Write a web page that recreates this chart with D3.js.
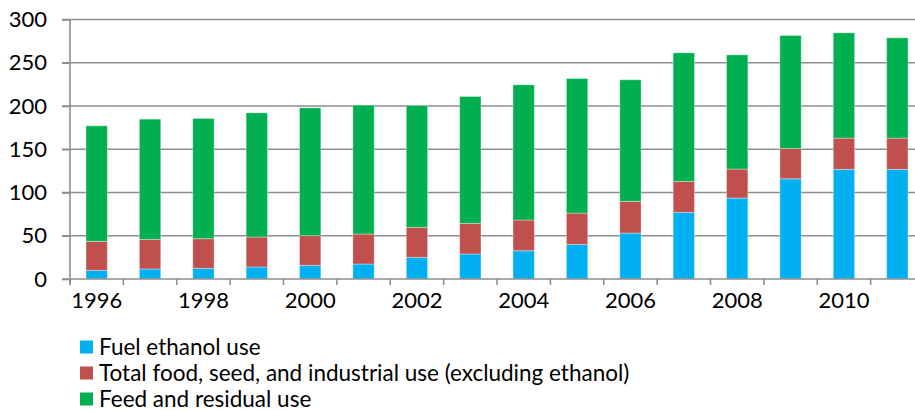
<!DOCTYPE html>
<html>
<head>
<meta charset="utf-8">
<script src="https://cdn.jsdelivr.net/npm/d3@7"></script>
<style>
  html, body { margin: 0; padding: 0; background: #fff; }
  svg { display: block; }
  text { font-family: Lato, "Open Sans", sans-serif; fill: #000; }
</style>
</head>
<body>
<svg id="chart" width="915" height="411"></svg>
<script>
// Corn use by category, million metric tons
const years = ["1996","1997","1998","1999","2000","2001","2002","2003",
               "2004","2005","2006","2007","2008","2009","2010","2011"];
const fuelEthanol = [10.0, 11.6, 12.3, 13.9, 15.8, 17.3, 25.0, 28.9,
                     32.7, 40.0, 53.1, 77.0, 93.6, 115.9, 126.7, 126.7];
const foodSeedIndustrial = [33.5, 34.2, 34.3, 34.6, 34.3, 34.7, 34.7, 35.4,
                            35.5, 36.2, 36.6, 35.8, 33.5, 35.0, 36.2, 36.2];
const feedResidual = [133.6, 139.0, 139.0, 143.6, 147.8, 149.0, 140.9, 146.7,
                      156.3, 155.6, 140.6, 148.7, 132.0, 130.6, 121.7, 115.9];
const yTicks = [0, 50, 100, 150, 200, 250, 300];
const seriesNames = ["Fuel ethanol use",
                     "Total food, seed, and industrial use (excluding ethanol)",
                     "Feed and residual use"];
const seriesColors = ["#00B0F0", "#C0504D", "#00B050"];

const svg = d3.select("#chart");
const plotLeft = 70, plotRight = 924, plotTop = 19.5, plotBottom = 279;
const axisFont = 22, legendFont = 22.5;

const rows = years.map((yr, i) => ({
  year: yr,
  fuel: fuelEthanol[i],
  food: foodSeedIndustrial[i],
  feed: feedResidual[i]
}));
const keys = ["fuel", "food", "feed"];
const stacked = d3.stack().keys(keys)(rows);

const x = d3.scaleBand().domain(years).range([plotLeft, plotRight])
  .paddingInner(0.6).paddingOuter(0.3);
const y = d3.scaleLinear().domain([0, 300]).range([plotBottom, plotTop]);
const step = x.step();

// horizontal gridlines (each extends left of the axis as a tick)
svg.append("g").selectAll("line").data(yTicks.filter(d => d > 0)).join("line")
  .attr("x1", plotLeft - 8).attr("x2", 915)
  .attr("y1", d => y(d)).attr("y2", d => y(d))
  .attr("stroke", "#8e8e8e").attr("stroke-width", 1.6);

// stacked bars
svg.append("g").selectAll("g").data(stacked).join("g")
  .attr("fill", (d, i) => seriesColors[i])
  .selectAll("rect").data(d => d).join("rect")
  .attr("x", d => x(d.data.year))
  .attr("width", x.bandwidth())
  .attr("y", d => y(d[1]))
  .attr("height", d => y(d[0]) - y(d[1]))
  .attr("stroke", "rgba(255,255,255,0.35)")
  .attr("stroke-width", 1);

// y axis
const yAxis = d3.axisLeft(y).tickValues(yTicks).tickSize(8).tickPadding(15);
const gy = svg.append("g").attr("transform", `translate(${plotLeft},0)`).call(yAxis);
gy.select(".domain").attr("stroke", "#8e8e8e").attr("stroke-width", 1.6)
  .attr("d", `M0,${plotTop}V${plotBottom + 6}`);
gy.selectAll(".tick line").attr("stroke", "#8e8e8e").attr("stroke-width", 1.6);
gy.selectAll(".tick text").attr("font-size", axisFont).attr("fill", "#111")
  .style("font-family", "Lato, 'Open Sans', sans-serif");

// x axis: line, tick marks between categories, labels every other year
svg.append("line").attr("x1", plotLeft - 8).attr("x2", 915)
  .attr("y1", plotBottom).attr("y2", plotBottom)
  .attr("stroke", "#8e8e8e").attr("stroke-width", 1.6);
svg.append("g").selectAll("line").data(d3.range(years.length + 1)).join("line")
  .attr("x1", i => plotLeft + i * step).attr("x2", i => plotLeft + i * step)
  .attr("y1", plotBottom).attr("y2", plotBottom + 6)
  .attr("stroke", "#8e8e8e").attr("stroke-width", 1.6);

const xAxis = d3.axisBottom(x)
  .tickValues(years.filter((d, i) => i % 2 === 0))
  .tickSize(0).tickPadding(13);
const gx = svg.append("g").attr("transform", `translate(0,${plotBottom})`).call(xAxis);
gx.select(".domain").remove();
gx.selectAll(".tick text").attr("font-size", axisFont).attr("fill", "#111")
  .style("font-family", "Lato, 'Open Sans', sans-serif");

// legend
const legend = svg.append("g").selectAll("g").data(seriesNames).join("g")
  .attr("transform", (d, i) => `translate(80,${347 + i * 26})`);
legend.append("rect").attr("x", 0).attr("y", -6.5)
  .attr("width", 13).attr("height", 13)
  .attr("fill", (d, i) => seriesColors[i]);
legend.append("text").attr("x", 19).attr("y", 0).attr("dy", "0.35em")
  .attr("font-size", legendFont).attr("fill", "#111").text(d => d);
</script>
</body>
</html>
